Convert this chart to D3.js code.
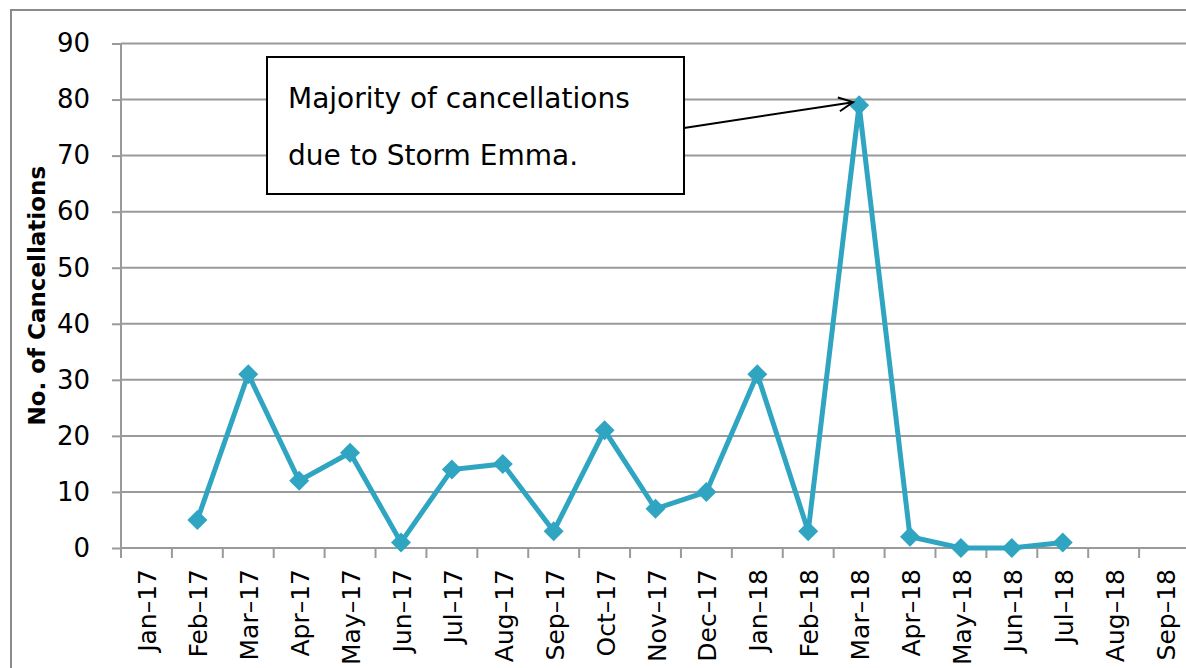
<!DOCTYPE html>
<html><head><meta charset="utf-8">
<script src="https://cdn.jsdelivr.net/npm/d3@7"></script>
<style>body{margin:0;background:#fff;}svg{display:block;}</style>
</head><body>
<svg id="c" width="1186" height="668"></svg>
<script>
const months = ["Jan–17","Feb–17","Mar–17","Apr–17","May–17","Jun–17","Jul–17","Aug–17","Sep–17","Oct–17","Nov–17","Dec–17","Jan–18","Feb–18","Mar–18","Apr–18","May–18","Jun–18","Jul–18","Aug–18","Sep–18"];
const cancellations = [null,5,31,12,17,1,14,15,3,21,7,10,31,3,79,2,0,0,1,null,null];
const yTicks = [0,10,20,30,40,50,60,70,80,90];
const yTitle = "No. of Cancellations";
const noteLines = ["Majority of cancellations","due to Storm Emma."];
const noteMonth = "Mar–18";

(function(){
const svg = d3.select("#c");
const font = "DejaVu Sans, sans-serif";
const pL = 121, pR = 1190, pT = 43.5, pB = 548;
const x = d3.scaleBand().domain(months).range([pL, pR]).padding(0);
const y = d3.scaleLinear().domain([0,90]).range([pB, pT]);

// outer border
svg.append("rect").attr("x",11).attr("y",10).attr("width",1200).attr("height",700)
  .attr("fill","none").attr("stroke","#8a8a8a").attr("stroke-width",2);

// gridlines + y ticks
const yAxis = d3.axisLeft(y).tickValues(yTicks).tickSize(9).tickPadding(22).tickFormat(d3.format("d"));
const gy = svg.append("g").attr("transform",`translate(${pL},0)`).call(yAxis);
gy.select(".domain").attr("stroke","#9a9a9a").attr("stroke-width",2).attr("d",`M0,${pT}V${pB}`);
gy.selectAll(".tick line").attr("stroke","#9a9a9a").attr("stroke-width",2);
gy.selectAll(".tick text").attr("font-family",font).attr("font-size",26).attr("fill","#000");
svg.append("g").selectAll("line").data(yTicks).join("line")
  .attr("x1",pL).attr("x2",pR).attr("y1",d=>y(d)).attr("y2",d=>y(d))
  .attr("stroke","#9a9a9a").attr("stroke-width",2);

// x axis ticks at band boundaries
const bounds = months.map(m=>x(m)).concat([x(months[months.length-1])+x.bandwidth()]);
svg.append("g").selectAll("line").data(bounds).join("line")
  .attr("x1",d=>d).attr("x2",d=>d).attr("y1",pB).attr("y2",pB+10)
  .attr("stroke","#9a9a9a").attr("stroke-width",2);
svg.append("g").selectAll("text").data(months).join("text")
  .attr("transform",d=>`translate(${x(d)+x.bandwidth()/2+10},${pB+21}) rotate(-90)`)
  .attr("text-anchor","end").attr("font-family",font).attr("font-size",25).attr("fill","#000")
  .text(d=>d);

// y title
svg.append("text").attr("transform",`translate(45,${(pT+pB)/2}) rotate(-90)`)
  .attr("text-anchor","middle").attr("font-family",font).attr("font-size",23).attr("font-weight","bold")
  .text(yTitle);

// line
const data = months.map((m,i)=>({m, v:cancellations[i]})).filter(d=>d.v!==null);
const cx = d=>x(d.m)+x.bandwidth()/2;
svg.append("path").datum(data)
  .attr("d", d3.line().x(cx).y(d=>y(d.v)))
  .attr("fill","none").attr("stroke","#2fa5c2").attr("stroke-width",5).attr("stroke-linejoin","miter");
svg.append("g").selectAll("path").data(data).join("path")
  .attr("transform",d=>`translate(${cx(d)},${y(d.v)})`)
  .attr("d","M0,-10L10,0L0,10L-10,0Z").attr("fill","#2fa5c2");

// annotation
svg.append("rect").attr("x",267).attr("y",57).attr("width",417).attr("height",137)
  .attr("fill","#fff").attr("stroke","#000").attr("stroke-width",2);
svg.append("g").selectAll("text").data(noteLines).join("text")
  .attr("x",288).attr("y",(d,i)=>108+i*57).attr("font-family",font).attr("font-size",28).attr("fill","#000")
  .text(d=>d);
const peak = data.find(d=>d.m===noteMonth);
const tx = cx(peak)-6, ty = y(peak.v)-3, sx = 684, sy = 128;
svg.append("line").attr("x1",sx).attr("y1",sy).attr("x2",tx).attr("y2",ty).attr("stroke","#000").attr("stroke-width",2);
const ang = Math.atan2(ty-sy, tx-sx);
const ah = 16, aw = 0.45;
svg.append("path").attr("d",
  `M${tx-ah*Math.cos(ang-aw)},${ty-ah*Math.sin(ang-aw)}L${tx},${ty}L${tx-ah*Math.cos(ang+aw)},${ty-ah*Math.sin(ang+aw)}`)
  .attr("fill","none").attr("stroke","#000").attr("stroke-width",2);
})();
</script>
</body></html>
